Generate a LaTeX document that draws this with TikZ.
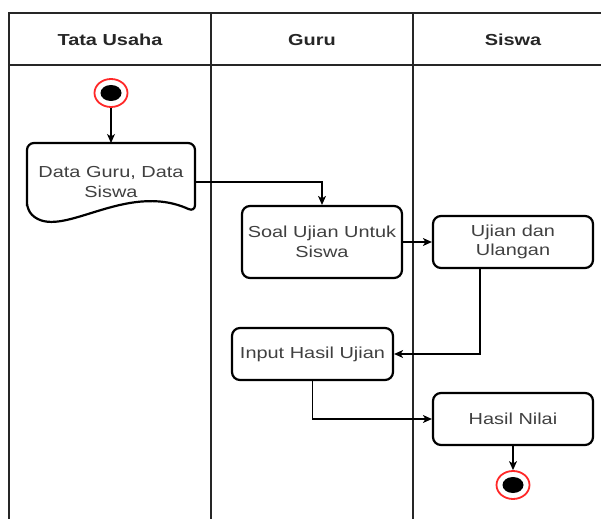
\documentclass[tikz,border=0pt]{standalone}
\usepackage{fontspec}
\setmainfont{Liberation Sans}[FakeStretch=1.25]
\definecolor{umltext}{RGB}{64,64,64}
\definecolor{umlred}{RGB}{255,40,40}
\usetikzlibrary{arrows.meta,positioning,shapes.geometric}

\begin{document}
\begin{tikzpicture}[
  x=1bp,y=-1bp,
  every node/.style={font=\fontsize{16}{19.5}\selectfont,text=umltext},
  lanehead/.style={font=\fontsize{16}{19}\selectfont\bfseries,text=black!85},
  lane/.style={line width=1.6bp,black!85},
  actbox/.style={draw,line width=2.2bp,rounded corners=8bp,align=center,
                 inner sep=0pt,minimum width=160bp,minimum height=52bp},
  startnode/.style={ellipse,draw=umlred,line width=1.8bp,minimum width=33bp,
                    minimum height=28bp,inner sep=0pt},
  dotnode/.style={ellipse,fill=black,minimum width=21bp,minimum height=16bp,inner sep=0pt},
  arr/.style={-{Stealth[length=9bp,width=8bp,inset=2.5bp]},line width=1.1bp},
]
  \useasboundingbox (0,0) rectangle (601,519);

  % Swimlanes
  \draw[lane] (9,519) -- (9,13) -- (601,13);
  \draw[lane] (9,65) -- (601,65);
  \draw[lane] (211,13) -- (211,519);
  \draw[lane] (413,13) -- (413,519);
  \node[lanehead] (hTU) at (110,40) {Tata Usaha};
  \node[lanehead] (hGuru) at (312,40) {Guru};
  \node[lanehead] (hSiswa) at (513,40) {Siswa};

  % Start
  \node[startnode] (start) at (111,93) {};
  \node[dotnode] (startdot) at (start) {};

  % Document: data guru / siswa
  \coordinate (doctop) at (111,143);
  \draw[line width=2.2bp,rounded corners=7bp]
    (27,210) -- (27,143) -- (195,143) -- (195,212)
    .. controls (125,180) and (60,242) .. (27,210) -- cycle;
  \node[minimum width=168bp,minimum height=58bp,inner sep=0pt,align=center] (doc)
    at (111,182) {Data Guru, Data\\Siswa};

  % Activities
  \node[actbox,minimum height=72bp] (soal) at (322,242) {Soal Ujian Untuk\\Siswa};
  \node[actbox] (ujian) at (513,242) {Ujian dan\\Ulangan};
  \node[actbox,minimum width=161bp] (input) at (312.5,354) {Input Hasil Ujian};
  \node[actbox] (hasil) at (513,419) {Hasil Nilai};

  % End
  \node[startnode] (end) at (513,485) {};
  \node[dotnode] (enddot) at (end) {};

  % Flow
  \draw[arr] (start) -- (doctop);
  \draw[arr] (doc.east) -| (soal.north);
  \draw[arr] (soal) -- (ujian);
  \draw[arr] ([xshift=-33bp]ujian.south) |- (input);
  \draw[arr] (input) |- (hasil);
  \draw[arr] (hasil) -- (end);
\end{tikzpicture}
\end{document}
